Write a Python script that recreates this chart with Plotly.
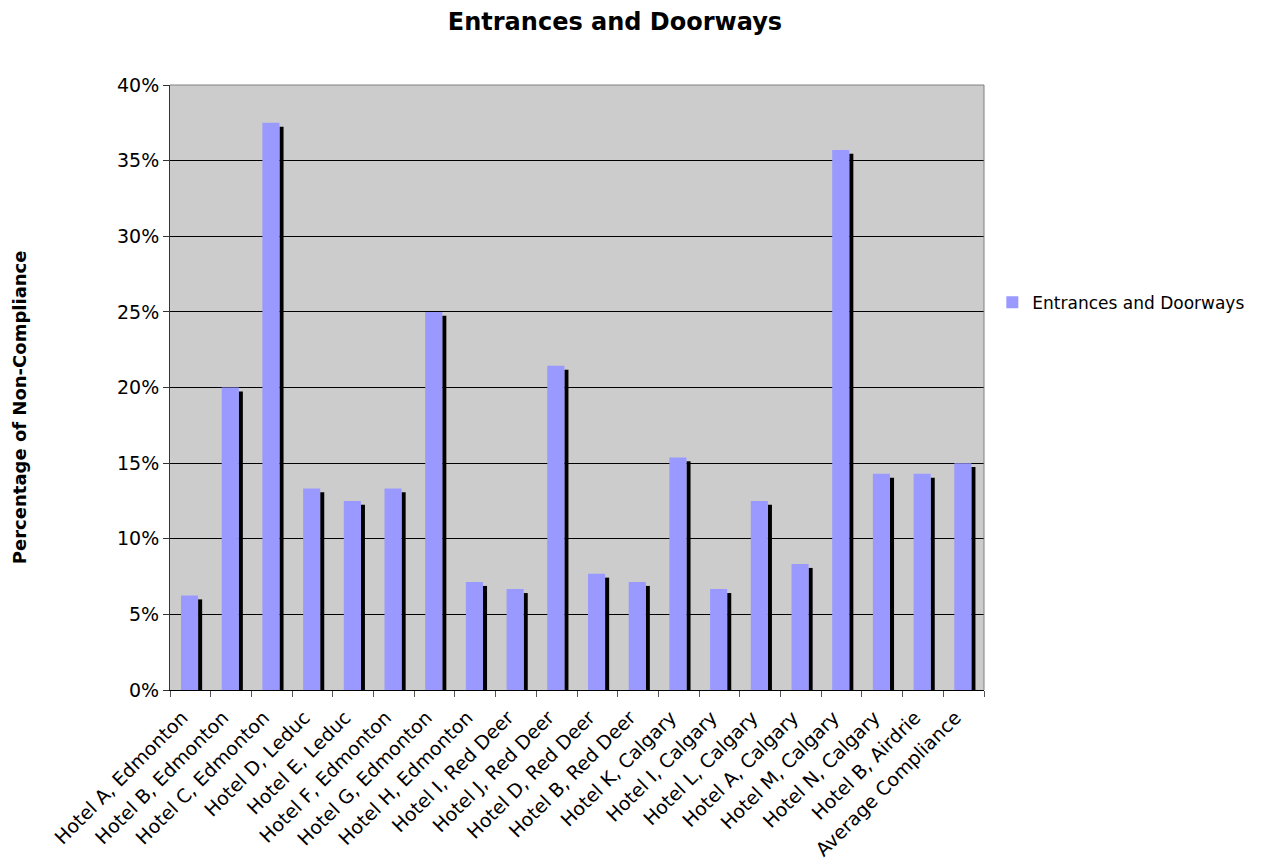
import plotly.graph_objects as go

categories = [
    "Hotel A, Edmonton", "Hotel B, Edmonton", "Hotel C, Edmonton", "Hotel D, Leduc",
    "Hotel E, Leduc", "Hotel F, Edmonton", "Hotel G, Edmonton", "Hotel H, Edmonton",
    "Hotel I, Red Deer", "Hotel J, Red Deer", "Hotel D, Red Deer", "Hotel B, Red Deer",
    "Hotel K, Calgary", "Hotel I, Calgary", "Hotel L, Calgary", "Hotel A, Calgary",
    "Hotel M, Calgary", "Hotel N, Calgary", "Hotel B, Airdrie", "Average Compliance",
]
non_compliance = [
    0.0625, 0.20, 0.375, 0.1333, 0.125, 0.1333, 0.25, 0.0714,
    0.0667, 0.2143, 0.0769, 0.0714, 0.1538, 0.0667, 0.125, 0.0833,
    0.3571, 0.1429, 0.1429, 0.15,
]
series_name = "Entrances and Doorways"

FONT = "DejaVu Sans"
positions = list(range(len(categories)))
shadow_drop = 0.0026  # shadow sits a few pixels below the bar top

fig = go.Figure()

# drop shadow to the right of each bar
fig.add_trace(go.Bar(
    x=positions,
    y=[v - shadow_drop for v in non_compliance],
    width=0.1,
    offset=0.19,
    marker=dict(color="black", line=dict(width=0)),
    showlegend=False,
    hoverinfo="skip",
))

fig.add_trace(go.Bar(
    x=positions,
    y=non_compliance,
    width=0.42,
    offset=-0.23,
    name=series_name,
    marker=dict(color="#9999FF", line=dict(width=0)),
))

fig.update_layout(
    width=1261,
    height=865,
    margin=dict(l=170, r=276, t=85, b=175),
    paper_bgcolor="white",
    plot_bgcolor="#CCCCCC",
    barmode="overlay",
    font=dict(family=FONT, color="black"),
    title=dict(
        text="<b>Entrances and Doorways</b>",
        x=615 / 1261,
        xanchor="center",
        y=1 - 22 / 865,
        yanchor="middle",
        font=dict(size=24, family=FONT),
    ),
    legend=dict(
        x=1.009, y=0.64, xanchor="left", yanchor="middle",
        font=dict(size=17, family=FONT),
        bgcolor="rgba(0,0,0,0)",
    ),
    xaxis=dict(
        range=[-0.5, len(categories) - 0.5],
        automargin=False,
        tickmode="array",
        tickvals=positions,
        ticktext=categories,
        tickangle=-45,
        ticks="",
        ticklabelstandoff=8,
        ticklabelshift=-8,
        tickfont=dict(size=19, family=FONT),
        showgrid=False,
        showline=True,
        linecolor="black",
        linewidth=1,
        mirror=False,
        zeroline=False,
        minor=dict(
            tick0=0.5, dtick=1, ticks="outside", ticklen=6,
            tickcolor="#555555", tickwidth=1, showgrid=False,
        ),
    ),
    yaxis=dict(
        range=[0, 0.4],
        automargin=False,
        dtick=0.05,
        tickformat=".0%",
        ticks="outside",
        ticklen=6,
        tickcolor="#333333",
        tickfont=dict(size=19, family=FONT),
        showgrid=True,
        gridcolor="black",
        gridwidth=1,
        showline=True,
        linecolor="#333333",
        linewidth=1,
        zeroline=False,
    ),
)

# right and top borders of the plot frame
fig.add_shape(type="line", xref="paper", yref="paper", x0=1, x1=1, y0=0, y1=1,
              line=dict(color="#808080", width=1))
fig.add_shape(type="line", xref="paper", yref="paper", x0=0, x1=1, y0=1, y1=1,
              line=dict(color="#808080", width=1))

fig.add_annotation(
    text="<b>Percentage of Non-Compliance</b>",
    xref="paper", yref="paper",
    x=(19 - 170) / 815, y=(690 - 407) / 605,
    xanchor="center", yanchor="middle",
    textangle=-90, showarrow=False,
    font=dict(size=18, family=FONT),
)

fig.write_html("out.html")
